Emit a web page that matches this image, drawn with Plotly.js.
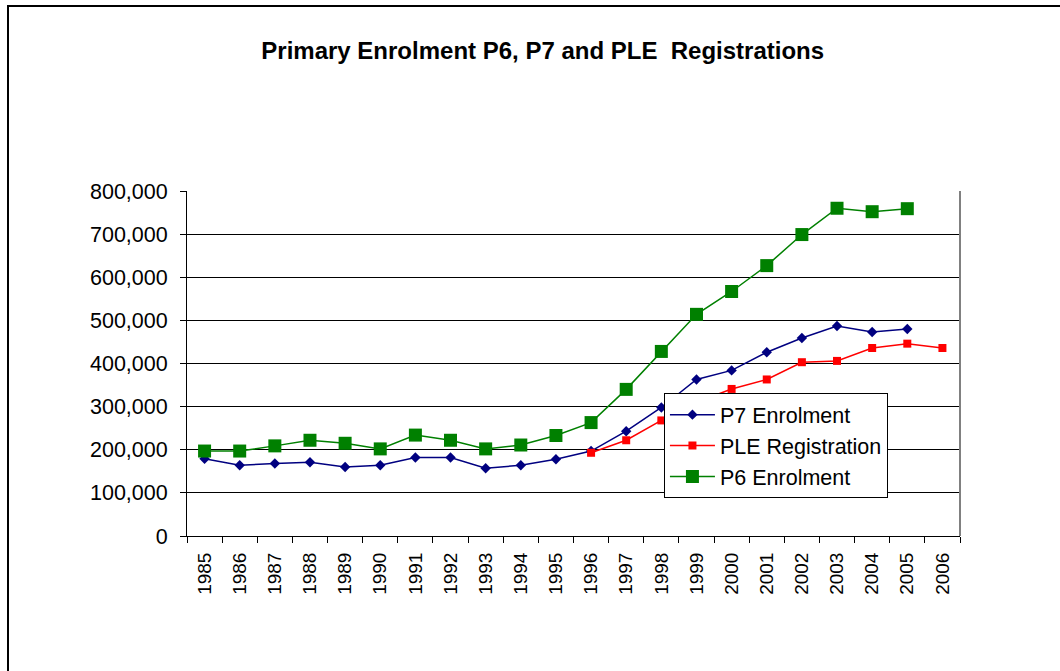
<!DOCTYPE html>
<html>
<head>
<meta charset="utf-8">
<script src="https://cdn.plot.ly/plotly-3.0.1.min.js"></script>
<style>
  html, body { margin: 0; padding: 0; background: #fff; }
  #wrap { position: relative; width: 1060px; height: 671px; overflow: hidden; }
  #chart { width: 1060px; height: 671px; }
  #frame { position: absolute; left: 7px; top: 5px; width: 1200px; height: 800px;
           border-left: 2px solid #000; border-top: 2px solid #000; pointer-events: none; }
</style>
</head>
<body>
<div id="wrap">
  <div id="chart"></div>
  <div id="frame"></div>
</div>
<script>
const years = ['1985','1986','1987','1988','1989','1990','1991','1992','1993','1994','1995',
               '1996','1997','1998','1999','2000','2001','2002','2003','2004','2005','2006'];

const p7Enrolment = [179000, 164000, 168000, 171000, 160000, 164000, 182000, 182000, 157000, 164000, 178000,
                     197000, 243000, 298000, 363000, 384000, 426000, 459000, 487000, 473000, 480000, null];

const pleRegistration = [null, null, null, null, null, null, null, null, null, null, null,
                         193000, 222000, 268000, 310000, 341000, 363000, 403000, 406000, 436000, 446000, 436000];

const p6Enrolment = [197000, 197000, 209000, 222000, 215000, 202000, 234000, 222000, 202000, 211000, 233000,
                     263000, 340000, 428000, 514000, 567000, 627000, 699000, 760000, 752000, 759000, null];

const seriesNames = ['P7 Enrolment', 'PLE Registration', 'P6 Enrolment'];
const yTicks = [0, 100000, 200000, 300000, 400000, 500000, 600000, 700000, 800000];

const traces = [
  {
    x: years, y: p7Enrolment, name: seriesNames[0], type: 'scatter', mode: 'lines+markers',
    line: { color: '#000080', width: 1.5 },
    marker: { symbol: 'diamond', size: 8, color: '#000080' },
    connectgaps: false
  },
  {
    x: years, y: pleRegistration, name: seriesNames[1], type: 'scatter', mode: 'lines+markers',
    line: { color: '#FF0000', width: 1.5 },
    marker: { symbol: 'square', size: 8, color: '#FF0000' },
    connectgaps: false
  },
  {
    x: years, y: p6Enrolment, name: seriesNames[2], type: 'scatter', mode: 'lines+markers',
    line: { color: '#008000', width: 1.5 },
    marker: { symbol: 'square', size: 13, color: '#008000' },
    connectgaps: false
  }
];

const layout = {
  width: 1060, height: 671,
  margin: { l: 187, r: 100, t: 191, b: 135 },
  paper_bgcolor: 'rgba(0,0,0,0)',
  plot_bgcolor: '#fff',
  font: { family: 'Liberation Sans, Arial, sans-serif', color: '#000' },
  title: {
    text: 'Primary Enrolment P6, P7 and PLE  Registrations',
    font: { family: 'Liberation Sans, Arial, sans-serif', size: 24, color: '#000', weight: 'bold' },
    xref: 'container', yref: 'container', x: 0.512, xanchor: 'center', y: 0.925, yanchor: 'middle'
  },
  showlegend: true,
  legend: {
    x: 0.617, y: 0.414, xanchor: 'left', yanchor: 'top',
    bgcolor: '#fff', bordercolor: '#000', borderwidth: 1,
    font: { family: 'Liberation Sans, Arial, sans-serif', size: 21.5, color: '#000' },
    itemwidth: 45,
    traceorder: 'normal'
  },
  xaxis: {
    type: 'category',
    categoryarray: years,
    range: [-0.5, 21.5],
    tickvals: years,
    ticktext: years,
    tickson: 'boundaries',
    ticks: 'outside', ticklen: 6, tickcolor: '#000', tickwidth: 1,
    tickangle: -90,
    tickfont: { size: 19, color: '#000' },
    showline: true, linecolor: '#000', linewidth: 1,
    showgrid: false, zeroline: false,
    ticklabelstandoff: 8,
    fixedrange: true
  },
  yaxis: {
    range: [0, 800000],
    tickvals: yTicks,
    tickformat: ',d',
    ticks: 'outside', ticklen: 6, tickcolor: '#000', tickwidth: 1,
    tickfont: { size: 21.5, color: '#000' },
    showline: true, linecolor: '#000', linewidth: 1,
    showgrid: true, gridcolor: '#000', gridwidth: 1,
    zeroline: false,
    ticklabelstandoff: 8,
    fixedrange: true
  },
  shapes: [
    { type: 'line', xref: 'paper', yref: 'paper', x0: 1, x1: 1, y0: 0, y1: 1,
      line: { color: '#808080', width: 2 } }
  ]
};

Plotly.newPlot('chart', traces, layout, { displayModeBar: false, staticPlot: true });
</script>
</body>
</html>
